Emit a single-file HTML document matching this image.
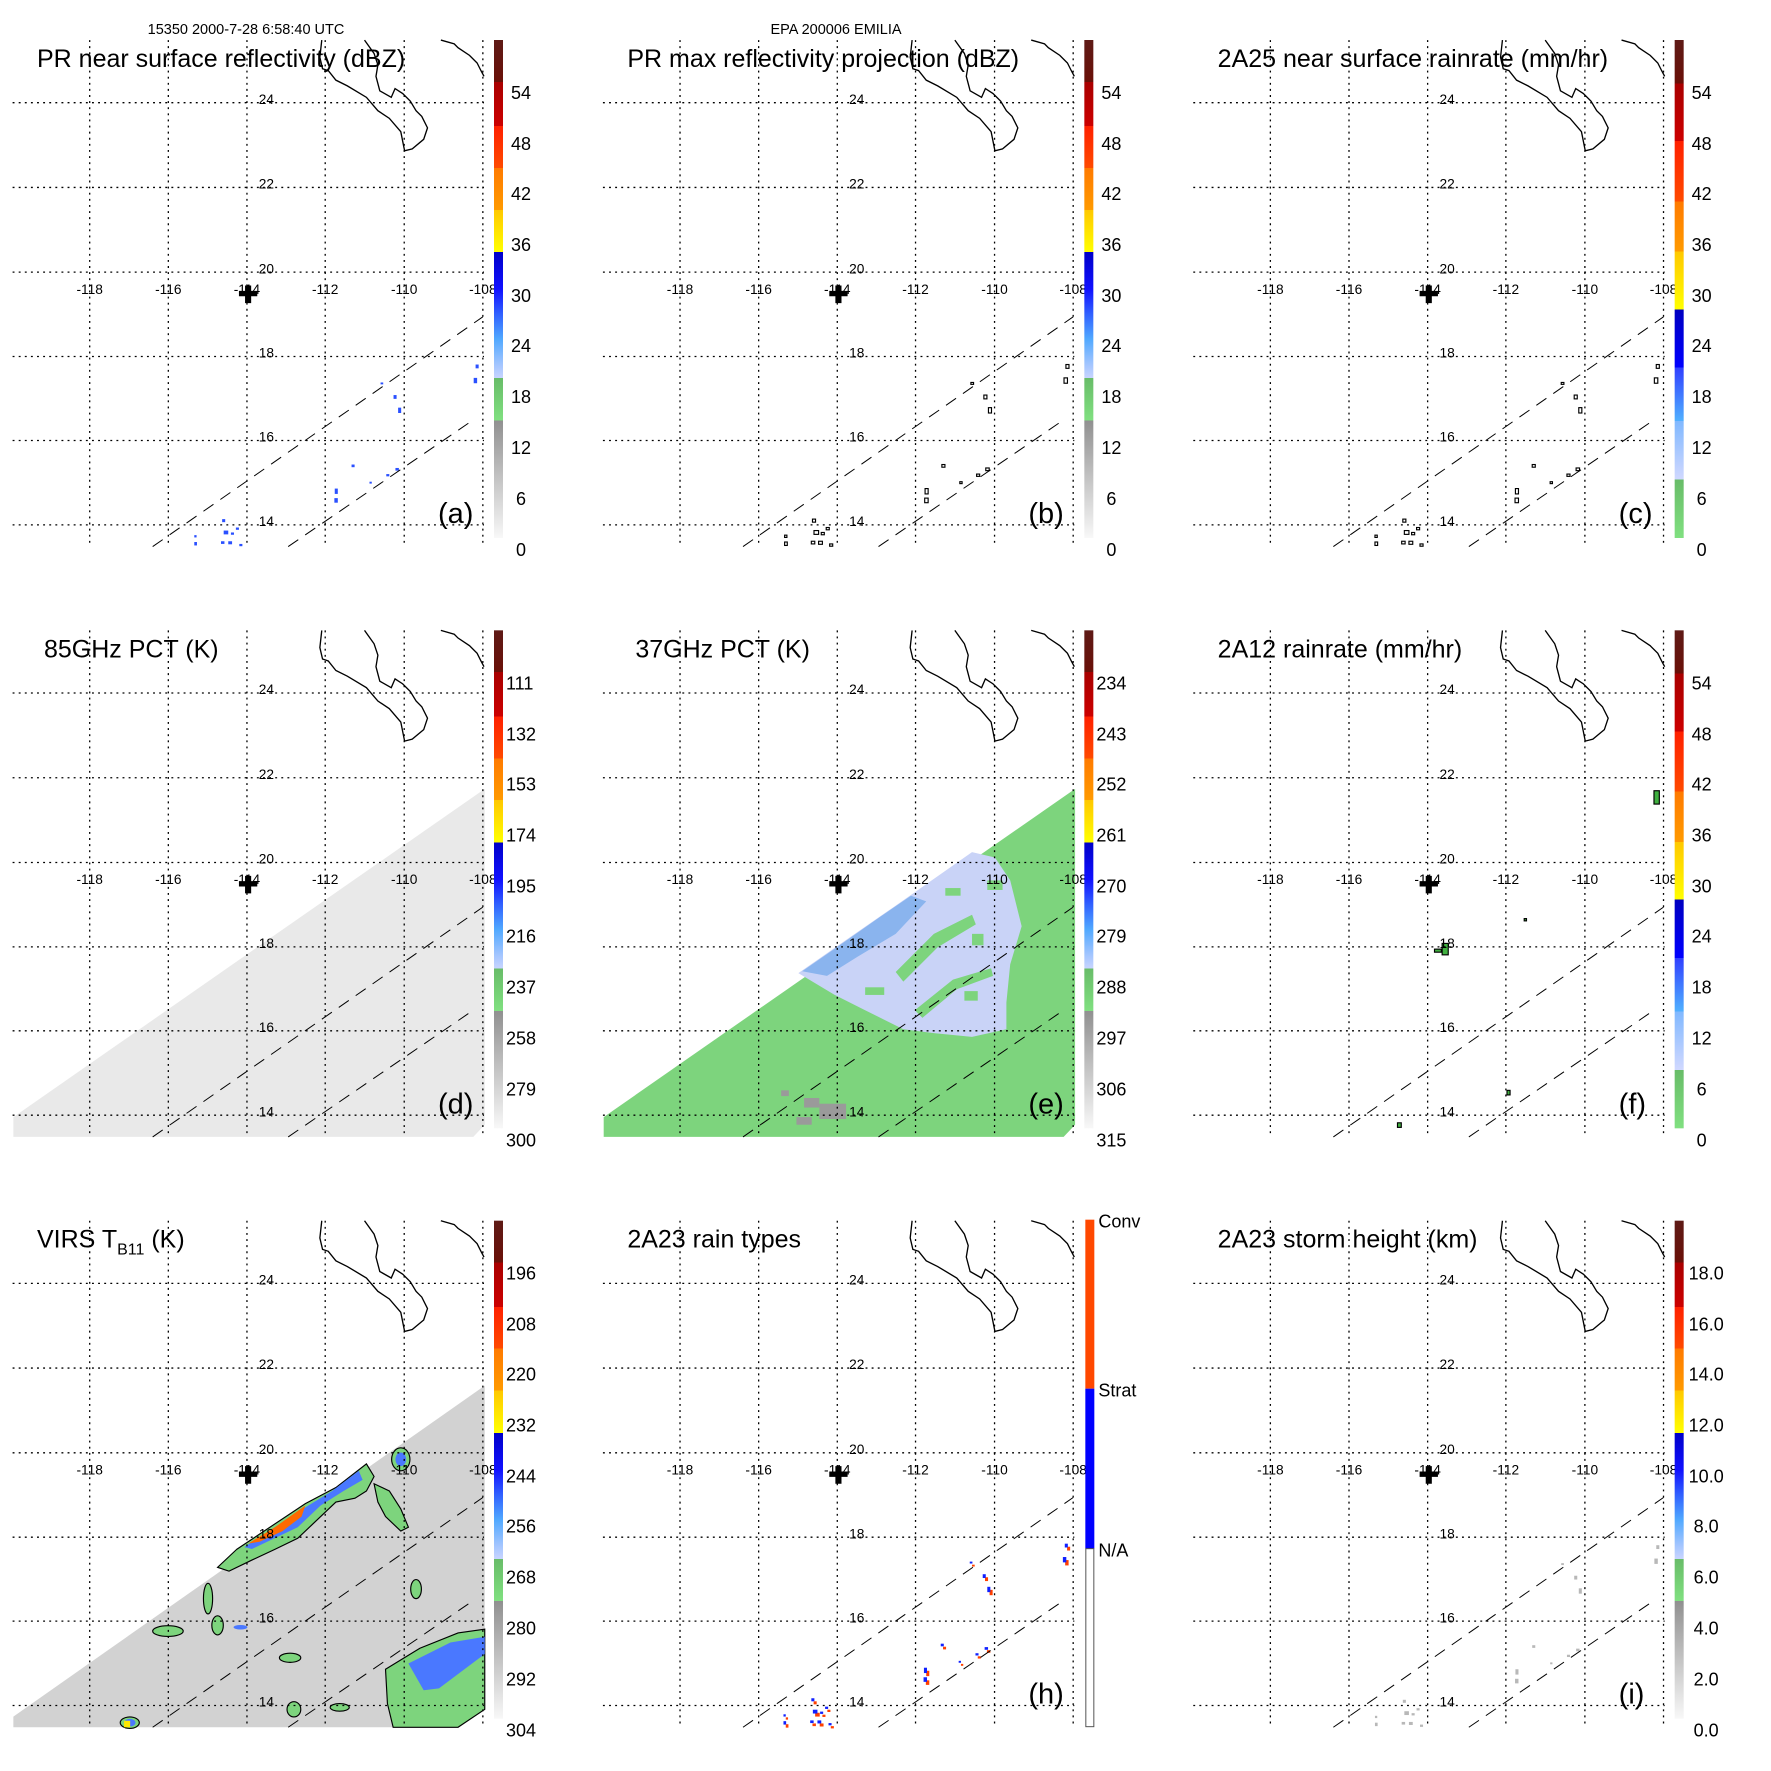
<!DOCTYPE html>
<html><head><meta charset="utf-8"><style>
html,body{margin:0;padding:0;background:#fff;}
svg{display:block;font-family:"Liberation Sans",Arial,sans-serif;}
</style></head><body>
<svg width="1771" height="1771" viewBox="0 0 1771 1771" xmlns="http://www.w3.org/2000/svg">
<defs>
<linearGradient id="gA" x1="0" y1="0" x2="0" y2="1">
<stop offset="0" stop-color="#5e1a16"/><stop offset="0.084" stop-color="#6a1008"/>
<stop offset="0.084" stop-color="#a80000"/><stop offset="0.173" stop-color="#cc0000"/>
<stop offset="0.173" stop-color="#ff2000"/><stop offset="0.257" stop-color="#ff4a00"/>
<stop offset="0.257" stop-color="#ff7a00"/><stop offset="0.341" stop-color="#ff9a00"/>
<stop offset="0.341" stop-color="#ffc800"/><stop offset="0.426" stop-color="#ffff00"/>
<stop offset="0.426" stop-color="#0000c8"/><stop offset="0.5" stop-color="#1010ff"/>
<stop offset="0.55" stop-color="#3060ff"/><stop offset="0.6" stop-color="#50a8ff"/>
<stop offset="0.65" stop-color="#a0c4ff"/><stop offset="0.679" stop-color="#c8d4ff"/>
<stop offset="0.679" stop-color="#68bc68"/><stop offset="0.764" stop-color="#80e080"/>
<stop offset="0.764" stop-color="#909090"/><stop offset="1" stop-color="#f8f8f8"/>
</linearGradient>
<linearGradient id="gC" x1="0" y1="0" x2="0" y2="1">
<stop offset="0" stop-color="#5e1a16"/><stop offset="0.087" stop-color="#6a1008"/>
<stop offset="0.087" stop-color="#a80000"/><stop offset="0.203" stop-color="#cc0000"/>
<stop offset="0.203" stop-color="#ff2000"/><stop offset="0.324" stop-color="#ff4a00"/>
<stop offset="0.324" stop-color="#ff7a00"/><stop offset="0.425" stop-color="#ff9a00"/>
<stop offset="0.425" stop-color="#ffc800"/><stop offset="0.541" stop-color="#ffff00"/>
<stop offset="0.541" stop-color="#0000c0"/><stop offset="0.658" stop-color="#0000ff"/>
<stop offset="0.658" stop-color="#3040ff"/><stop offset="0.765" stop-color="#50b0ff"/>
<stop offset="0.765" stop-color="#80b8ff"/><stop offset="0.883" stop-color="#d0d8ff"/>
<stop offset="0.883" stop-color="#68bc68"/><stop offset="1" stop-color="#80e080"/>
</linearGradient>
<g id="grid">
<g stroke="#000" stroke-width="3.4" stroke-dasharray="5 11" fill="none">
<path d="M235,105V1432M441,105V1432M647,105V1432M852,105V1432M1059,105V1432M1265,105V1432"/>
<path d="M33,269H1268M33,491H1268M33,713H1268M33,934H1268M33,1154H1268M33,1375H1268"/>
</g>
<g stroke="#000" stroke-width="2.6" stroke-dasharray="32 22" fill="none">
<path d="M400,1432L1265,830"/><path d="M755,1432L1240,1100"/>
</g>
<g stroke="#000" stroke-width="3.5" fill="none">
<path d="M843,105L838,150L845,180L860,185L880,210L910,225L960,255L990,290L1020,310L1050,345L1060,395L1080,390L1110,365L1120,335L1105,305L1090,290L1075,265L1055,245L1035,232L1025,255L995,238L985,200L990,170L980,140L955,105"/>
<path d="M1155,105L1190,115L1200,125L1230,145L1250,165L1260,185L1268,200"/>
</g>
<path d="M642,748h16v14h16v14h-16v18h-16v-18h-16v-14h16z" fill="#000"/>
</g>
<g id="dots">
<rect x="1246" y="955" width="8" height="10"/><rect x="1241" y="990" width="9" height="14"/>
<rect x="1031" y="1035" width="8" height="10"/><rect x="1043" y="1068" width="8" height="14"/>
<rect x="997" y="1002" width="7" height="5"/><rect x="921" y="1217" width="8" height="7"/>
<rect x="877" y="1280" width="8" height="14"/><rect x="876" y="1305" width="9" height="12"/>
<rect x="1012" y="1242" width="8" height="6"/><rect x="1036" y="1226" width="9" height="7"/>
<rect x="968" y="1262" width="6" height="5"/><rect x="586" y="1390" width="12" height="10"/>
<rect x="598" y="1418" width="10" height="8"/><rect x="618" y="1382" width="8" height="6"/>
<rect x="582" y="1360" width="8" height="8"/><rect x="509" y="1420" width="7" height="9"/>
<rect x="509" y="1402" width="6" height="6"/><rect x="627" y="1425" width="8" height="6"/>
<rect x="579" y="1418" width="9" height="7"/><rect x="605" y="1395" width="8" height="6"/>
</g>
</defs>

<text x="246" y="34" font-size="14.5" text-anchor="middle">15350 2000-7-28 6:58:40 UTC</text>
<text x="836" y="34" font-size="14.5" text-anchor="middle">EPA 200006 EMILIA</text>

<!-- a -->
<g transform="translate(0,0)">
<g transform="scale(0.3817)">
<g fill="#2a50ff"><use href="#dots"/></g>
<use href="#grid"/>
<g font-size="36"><text x="678" y="272">24</text><text x="678" y="494">22</text><text x="678" y="716">20</text><text x="678" y="937">18</text><text x="678" y="1157">16</text><text x="678" y="1378">14</text>
<g text-anchor="middle"><text x="235" y="770">-118</text><text x="441" y="770">-116</text><text x="647" y="770">-114</text><text x="852" y="770">-112</text><text x="1059" y="770">-110</text><text x="1265" y="770">-108</text></g></g>
</g>
<text x="37" y="67" font-size="25">PR near surface reflectivity (dBZ)</text>
<text x="438" y="523" font-size="29">(a)</text>
<rect x="494" y="40" width="9" height="498" fill="url(#gA)"/>
<g font-size="18"><text x="511" y="99">54</text><text x="511" y="150">48</text><text x="511" y="200">42</text><text x="511" y="251">36</text><text x="511" y="302">30</text><text x="511" y="352">24</text><text x="511" y="403">18</text><text x="511" y="454">12</text><text x="516" y="505">6</text><text x="516" y="556">0</text></g>
</g>

<!-- b -->
<g transform="translate(590.33,0)">
<g transform="scale(0.3817)">
<g fill="#fff" stroke="#000" stroke-width="3"><use href="#dots"/></g>
<use href="#grid"/>
<g font-size="36"><text x="678" y="272">24</text><text x="678" y="494">22</text><text x="678" y="716">20</text><text x="678" y="937">18</text><text x="678" y="1157">16</text><text x="678" y="1378">14</text>
<g text-anchor="middle"><text x="235" y="770">-118</text><text x="441" y="770">-116</text><text x="647" y="770">-114</text><text x="852" y="770">-112</text><text x="1059" y="770">-110</text><text x="1265" y="770">-108</text></g></g>
</g>
<text x="37" y="67" font-size="25">PR max reflectivity projection (dBZ)</text>
<text x="438" y="523" font-size="29">(b)</text>
<rect x="494" y="40" width="9" height="498" fill="url(#gA)"/>
<g font-size="18"><text x="511" y="99">54</text><text x="511" y="150">48</text><text x="511" y="200">42</text><text x="511" y="251">36</text><text x="511" y="302">30</text><text x="511" y="352">24</text><text x="511" y="403">18</text><text x="511" y="454">12</text><text x="516" y="505">6</text><text x="516" y="556">0</text></g>
</g>

<!-- c -->
<g transform="translate(1180.67,0)">
<g transform="scale(0.3817)">
<g fill="#fff" stroke="#000" stroke-width="3"><use href="#dots"/></g>
<use href="#grid"/>
<g font-size="36"><text x="678" y="272">24</text><text x="678" y="494">22</text><text x="678" y="716">20</text><text x="678" y="937">18</text><text x="678" y="1157">16</text><text x="678" y="1378">14</text>
<g text-anchor="middle"><text x="235" y="770">-118</text><text x="441" y="770">-116</text><text x="647" y="770">-114</text><text x="852" y="770">-112</text><text x="1059" y="770">-110</text><text x="1265" y="770">-108</text></g></g>
</g>
<text x="37" y="67" font-size="25">2A25 near surface rainrate (mm/hr)</text>
<text x="438" y="523" font-size="29">(c)</text>
<rect x="494" y="40" width="9" height="498" fill="url(#gC)"/>
<g font-size="18"><text x="511" y="99">54</text><text x="511" y="150">48</text><text x="511" y="200">42</text><text x="511" y="251">36</text><text x="511" y="302">30</text><text x="511" y="352">24</text><text x="511" y="403">18</text><text x="511" y="454">12</text><text x="516" y="505">6</text><text x="516" y="556">0</text></g>
</g>

<!-- d -->
<g transform="translate(0,590.33)">
<g transform="scale(0.3817)">
<polygon points="35,1380 1270,520 1270,1400 1240,1432 35,1432" fill="#e9e9e9"/>
<use href="#grid"/>
<g font-size="36"><text x="678" y="272">24</text><text x="678" y="494">22</text><text x="678" y="716">20</text><text x="678" y="937">18</text><text x="678" y="1157">16</text><text x="678" y="1378">14</text>
<g text-anchor="middle"><text x="235" y="770">-118</text><text x="441" y="770">-116</text><text x="647" y="770">-114</text><text x="852" y="770">-112</text><text x="1059" y="770">-110</text><text x="1265" y="770">-108</text></g></g>
</g>
<text x="44" y="67" font-size="25">85GHz PCT (K)</text>
<text x="438" y="523" font-size="29">(d)</text>
<rect x="494" y="40" width="9" height="498" fill="url(#gA)"/>
<g font-size="18"><text x="506" y="99">111</text><text x="506" y="150">132</text><text x="506" y="200">153</text><text x="506" y="251">174</text><text x="506" y="302">195</text><text x="506" y="352">216</text><text x="506" y="403">237</text><text x="506" y="454">258</text><text x="506" y="505">279</text><text x="506" y="556">300</text></g>
</g>

<!-- e -->
<g transform="translate(590.33,590.33)">
<g transform="scale(0.3817)">
<polygon points="35,1380 1270,520 1270,1400 1240,1432 35,1432" fill="#7dd47d"/>
<polygon points="545,1003 700,895 800,826 900,756 1000,686 1060,700 1100,760 1130,880 1100,980 1090,1080 1090,1150 1000,1170 900,1160 820,1150 720,1100 640,1060" fill="#c9d3f7"/>
<polygon points="555,998 650,932 760,855 840,800 880,815 800,900 700,960 620,1010" fill="#8ab4ee"/>
<g fill="#7dd47d"><polygon points="800,1000 900,900 1000,850 1010,875 910,935 820,1025"/><polygon points="850,1100 950,1020 1050,990 1055,1010 960,1045 870,1120"/><rect x="930" y="780" width="40" height="20"/><rect x="1000" y="900" width="30" height="30"/><rect x="720" y="1040" width="50" height="20"/><rect x="1040" y="760" width="40" height="25"/><rect x="980" y="1050" width="35" height="25"/></g>
<g fill="#9a9a9a"><rect x="560" y="1330" width="40" height="25"/><rect x="600" y="1345" width="70" height="40"/><rect x="540" y="1380" width="40" height="20"/><rect x="500" y="1310" width="20" height="15"/></g>
<use href="#grid"/>
<g font-size="36"><text x="678" y="272">24</text><text x="678" y="494">22</text><text x="678" y="716">20</text><text x="678" y="937">18</text><text x="678" y="1157">16</text><text x="678" y="1378">14</text>
<g text-anchor="middle"><text x="235" y="770">-118</text><text x="441" y="770">-116</text><text x="647" y="770">-114</text><text x="852" y="770">-112</text><text x="1059" y="770">-110</text><text x="1265" y="770">-108</text></g></g>
</g>
<text x="45" y="67" font-size="25">37GHz PCT (K)</text>
<text x="438" y="523" font-size="29">(e)</text>
<rect x="494" y="40" width="9" height="498" fill="url(#gA)"/>
<g font-size="18"><text x="506" y="99">234</text><text x="506" y="150">243</text><text x="506" y="200">252</text><text x="506" y="251">261</text><text x="506" y="302">270</text><text x="506" y="352">279</text><text x="506" y="403">288</text><text x="506" y="454">297</text><text x="506" y="505">306</text><text x="506" y="556">315</text></g>
</g>

<!-- f -->
<g transform="translate(1180.67,590.33)">
<g transform="scale(0.3817)">
<g fill="#40b040" stroke="#000" stroke-width="3"><rect x="1240" y="525" width="14" height="35"/><rect x="685" y="925" width="16" height="30"/><rect x="665" y="940" width="18" height="8"/><rect x="855" y="1310" width="8" height="12"/><rect x="568" y="1395" width="10" height="12"/><rect x="900" y="860" width="6" height="6"/></g>
<use href="#grid"/>
<g font-size="36"><text x="678" y="272">24</text><text x="678" y="494">22</text><text x="678" y="716">20</text><text x="678" y="937">18</text><text x="678" y="1157">16</text><text x="678" y="1378">14</text>
<g text-anchor="middle"><text x="235" y="770">-118</text><text x="441" y="770">-116</text><text x="647" y="770">-114</text><text x="852" y="770">-112</text><text x="1059" y="770">-110</text><text x="1265" y="770">-108</text></g></g>
</g>
<text x="37" y="67" font-size="25">2A12 rainrate (mm/hr)</text>
<text x="438" y="523" font-size="29">(f)</text>
<rect x="494" y="40" width="9" height="498" fill="url(#gC)"/>
<g font-size="18"><text x="511" y="99">54</text><text x="511" y="150">48</text><text x="511" y="200">42</text><text x="511" y="251">36</text><text x="511" y="302">30</text><text x="511" y="352">24</text><text x="511" y="403">18</text><text x="511" y="454">12</text><text x="516" y="505">6</text><text x="516" y="556">0</text></g>
</g>

<!-- g -->
<g transform="translate(0,1180.67)">
<g transform="scale(0.3817)">
<polygon points="35,1404 1270,537 1270,1385 1190,1432 35,1432" fill="#d2d2d2"/>
<g fill="#7dd47d" stroke="#000" stroke-width="3">
<polygon points="620,966 800,846 880,804 960,742 980,775 960,813 930,832 880,842 820,899 780,937 720,966 660,994 600,1023 570,1013"/>
<polygon points="980,794 1020,813 1050,860 1070,908 1050,918 1010,880 990,842"/>
<ellipse cx="1050" cy="730" rx="24" ry="30"/>
<ellipse cx="440" cy="1180" rx="40" ry="14"/>
<ellipse cx="545" cy="1095" rx="12" ry="40"/>
<ellipse cx="570" cy="1165" rx="15" ry="25"/>
<ellipse cx="760" cy="1250" rx="28" ry="12"/>
<ellipse cx="1090" cy="1070" rx="14" ry="25"/>
<ellipse cx="890" cy="1380" rx="25" ry="10"/>
<ellipse cx="770" cy="1385" rx="18" ry="20"/>
<polygon points="1010,1280 1100,1225 1200,1185 1270,1175 1270,1385 1200,1432 1030,1432 1015,1370"/>
<ellipse cx="340" cy="1420" rx="25" ry="15"/>
</g>
<g fill="#4a78ff">
<polygon points="640,960 800,856 870,813 940,760 950,784 900,813 840,851 780,908 700,946 660,965"/>
<ellipse cx="1050" cy="730" rx="14" ry="18"/>
<polygon points="1070,1265 1180,1210 1270,1195 1270,1240 1150,1330 1110,1335"/>
<ellipse cx="630" cy="1170" rx="18" ry="6"/>
<ellipse cx="340" cy="1420" rx="15" ry="10"/>
</g>
<polygon points="650,951 720,908 800,851 790,880 740,918 680,946" fill="#ff6a00"/>
<rect x="325" y="1415" width="16" height="17" fill="#ffe800"/>
<use href="#grid"/>
<g font-size="36"><text x="678" y="272">24</text><text x="678" y="494">22</text><text x="678" y="716">20</text><text x="678" y="937">18</text><text x="678" y="1157">16</text><text x="678" y="1378">14</text>
<g text-anchor="middle"><text x="235" y="770">-118</text><text x="441" y="770">-116</text><text x="647" y="770">-114</text><text x="852" y="770">-112</text><text x="1059" y="770">-110</text><text x="1265" y="770">-108</text></g></g>
</g>
<text x="37" y="67" font-size="25">VIRS T<tspan font-size="16" dy="7">B11</tspan><tspan dy="-7"> (K)</tspan></text>
<rect x="494" y="40" width="9" height="498" fill="url(#gA)"/>
<g font-size="18"><text x="506" y="99">196</text><text x="506" y="150">208</text><text x="506" y="200">220</text><text x="506" y="251">232</text><text x="506" y="302">244</text><text x="506" y="352">256</text><text x="506" y="403">268</text><text x="506" y="454">280</text><text x="506" y="505">292</text><text x="506" y="556">304</text></g>
</g>

<!-- h -->
<g transform="translate(590.33,1180.67)">
<g transform="scale(0.3817)">
<g fill="#ff4000"><use href="#dots" transform="translate(3,4)"/></g>
<g fill="#1020ff"><use href="#dots" transform="translate(-3,-4)"/></g>
<use href="#grid"/>
<g font-size="36"><text x="678" y="272">24</text><text x="678" y="494">22</text><text x="678" y="716">20</text><text x="678" y="937">18</text><text x="678" y="1157">16</text><text x="678" y="1378">14</text>
<g text-anchor="middle"><text x="235" y="770">-118</text><text x="441" y="770">-116</text><text x="647" y="770">-114</text><text x="852" y="770">-112</text><text x="1059" y="770">-110</text><text x="1265" y="770">-108</text></g></g>
</g>
<text x="37" y="67" font-size="25">2A23 rain types</text>
<text x="438" y="523" font-size="29">(h)</text>
<rect x="495" y="39" width="9" height="169" fill="#ff4800"/>
<rect x="495" y="208" width="9" height="160" fill="#0000ff"/>
<rect x="495.5" y="368" width="8" height="178" fill="#fff" stroke="#555" stroke-width="1"/>
<g font-size="18"><text x="508" y="47">Conv</text><text x="508" y="216">Strat</text><text x="508" y="376">N/A</text></g>
</g>

<!-- i -->
<g transform="translate(1180.67,1180.67)">
<g transform="scale(0.3817)">
<g fill="#b8b8b8"><use href="#dots"/></g>
<use href="#grid"/>
<g font-size="36"><text x="678" y="272">24</text><text x="678" y="494">22</text><text x="678" y="716">20</text><text x="678" y="937">18</text><text x="678" y="1157">16</text><text x="678" y="1378">14</text>
<g text-anchor="middle"><text x="235" y="770">-118</text><text x="441" y="770">-116</text><text x="647" y="770">-114</text><text x="852" y="770">-112</text><text x="1059" y="770">-110</text><text x="1265" y="770">-108</text></g></g>
</g>
<text x="37" y="67" font-size="25">2A23 storm height (km)</text>
<text x="438" y="523" font-size="29">(i)</text>
<rect x="494" y="40" width="9" height="498" fill="url(#gA)"/>
<g font-size="18"><text x="508" y="99">18.0</text><text x="508" y="150">16.0</text><text x="508" y="200">14.0</text><text x="508" y="251">12.0</text><text x="508" y="302">10.0</text><text x="513" y="352">8.0</text><text x="513" y="403">6.0</text><text x="513" y="454">4.0</text><text x="513" y="505">2.0</text><text x="513" y="556">0.0</text></g>
</g>
</svg>
</body></html>
